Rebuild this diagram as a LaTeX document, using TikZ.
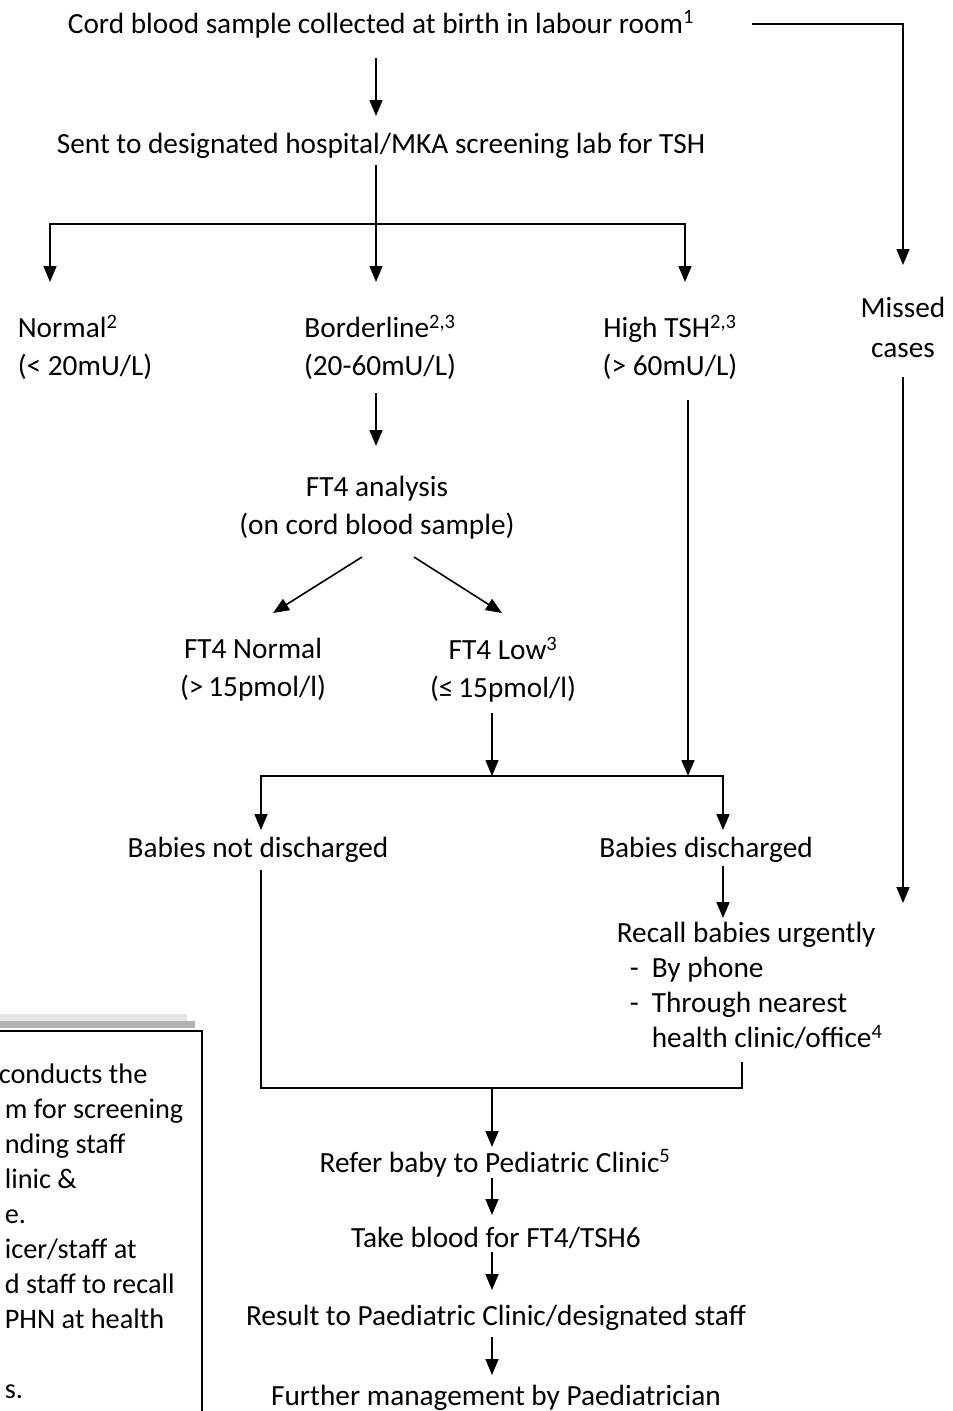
\documentclass[tikz,border=0pt]{standalone}
\usepackage{fontspec}
\setmainfont{Carlito}
\usetikzlibrary{arrows.meta,calc}

\tikzset{
  lbl/.style={inner sep=0pt, font=\fontsize{29.3}{38}\selectfont, align=center},
  arr/.style={-{Triangle[width=13pt,length=16pt]}}
}

\begin{document}
\begin{tikzpicture}[x=1pt,y=-1pt,line width=1.6pt]
  \useasboundingbox (0,0) rectangle (953,1411);
  % text of the flow
  \node[lbl,anchor=base] (cord) at (381,33) {Cord blood sample collected at birth in labour room\textsuperscript{1}};
  \node[lbl,anchor=base] (sent) at (381,153) {Sent to designated hospital/MKA screening lab for TSH};
  \node[lbl,align=left,anchor=west] (normal) at (17,347) {Normal\textsuperscript{2}\\(< 20mU/L)};
  \node[lbl] (border) at (380,347) {Borderline\textsuperscript{2,3}\\(20-60mU/L)};
  \node[lbl] (high) at (670,347) {High TSH\textsuperscript{2,3}\\(> 60mU/L)};
  \node[lbl,font=\fontsize{29.3}{40}\selectfont] (missed) at (903,327) {Missed\\cases};
  \node[lbl] (ft4a) at (377,508) {FT4 analysis\\(on cord blood sample)};
  \node[lbl] (ft4n) at (253,670) {FT4 Normal\\(>\,15pmol/l)};
  \node[lbl] (ft4l) at (503,670) {FT4 Low\textsuperscript{3}\\(≤\,15pmol/l)};
  \node[lbl,anchor=base] (notdis) at (258,857) {Babies not discharged};
  \node[lbl,anchor=base] (dis) at (706,857) {Babies discharged};
  \node[lbl,align=left,anchor=north west,font=\fontsize{29.3}{35}\selectfont] (recall) at (616,921)
    {Recall babies urgently\\
     \hspace*{13pt}\makebox[22pt][l]{-}By phone\\
     \hspace*{13pt}\makebox[22pt][l]{-}Through nearest\\
     \hspace*{35pt}health clinic/office\textsuperscript{4}};
  \node[lbl,anchor=base] (refer) at (495,1172) {Refer baby to Pediatric Clinic\textsuperscript{5}};
  \node[lbl,anchor=base] (take) at (496,1247) {Take blood for FT4/TSH6};
  \node[lbl,anchor=base] (result) at (496,1325) {Result to Paediatric Clinic/designated staff};
  \node[lbl,anchor=base] (further) at (496,1405) {Further management by Paediatrician};

  % note box, cut at the left
  \fill[gray!20] (-2,1014) rectangle (187,1021);
  \fill[gray!60] (-2,1021) rectangle (195,1028);
  \draw (-2,1031) -- (202,1031) -- (202,1415);
  \node[lbl,align=left,anchor=north west,font=\fontsize{28.3}{35}\selectfont] (note) at (4,1063)
    {\hspace*{-6pt}conducts the\\m for screening\\nding staff\\linic \&\\e.\\icer/staff at\\
     d staff to recall\\PHN at health\\\mbox{}\\s.};

  % connectors
  \coordinate (tsh) at (376,224);
  \coordinate (join) at (492,776);
  \coordinate (meet) at (492,1088);
  \draw[arr] ([shift={(-5,25)}]cord.base) -- ([shift={(-5,-37)}]sent.base);
  \draw ([shift={(-5,12)}]sent.base) -- (tsh);
  \draw[arr] (tsh) -- ([shift={(-4,-65)}]border.center);
  \draw[arr] (tsh) -| ([shift={(33,-65)}]normal.west);
  \draw[arr] (tsh) -| ([shift={(15,-65)}]high.center);
  \draw[arr] ([xshift=57pt]cord.east) -| ([yshift=62pt]missed.center);
  \draw[arr] ([shift={(-4,46)}]border.center) -- ([shift={(-1,-62)}]ft4a.center);
  \draw[arr] ([shift={(-15,49)}]ft4a.center) -- ([shift={(20,-57)}]ft4n.center);
  \draw[arr] ([shift={(37,49)}]ft4a.center) -- ([shift={(-1,-57)}]ft4l.center);
  \draw[arr] ([shift={(-11,43)}]ft4l.center) -- (join);
  \draw[arr] ([shift={(18,53)}]high.center) -- ([xshift=18pt]high.center |- join);
  \draw[arr] (join) -| ([shift={(3,-27)}]notdis.base);
  \draw[arr] (join) -| ([shift={(17,-27)}]dis.base);
  \draw[arr] ([yshift=-50pt]missed.center) -- ($(missed.center |- recall.north)+(0,-18)$);
  \draw[arr] ([shift={(17,9)}]dis.base) -- ([shift={(107,-3)}]recall.north west);
  \draw ([shift={(3,13)}]notdis.base) |- (meet) -| ([shift={(126,141)}]recall.north west);
  \draw[arr] (meet) -- ([shift={(-3,-25)}]refer.base);
  \draw[arr] ([shift={(-3,6)}]refer.base) -- ([shift={(-4,-32)}]take.base);
  \draw[arr] ([shift={(-4,5)}]take.base) -- ([shift={(-4,-35)}]result.base);
  \draw[arr] ([shift={(-4,12)}]result.base) -- ([shift={(-4,-30)}]further.base);
\end{tikzpicture}
\end{document}
